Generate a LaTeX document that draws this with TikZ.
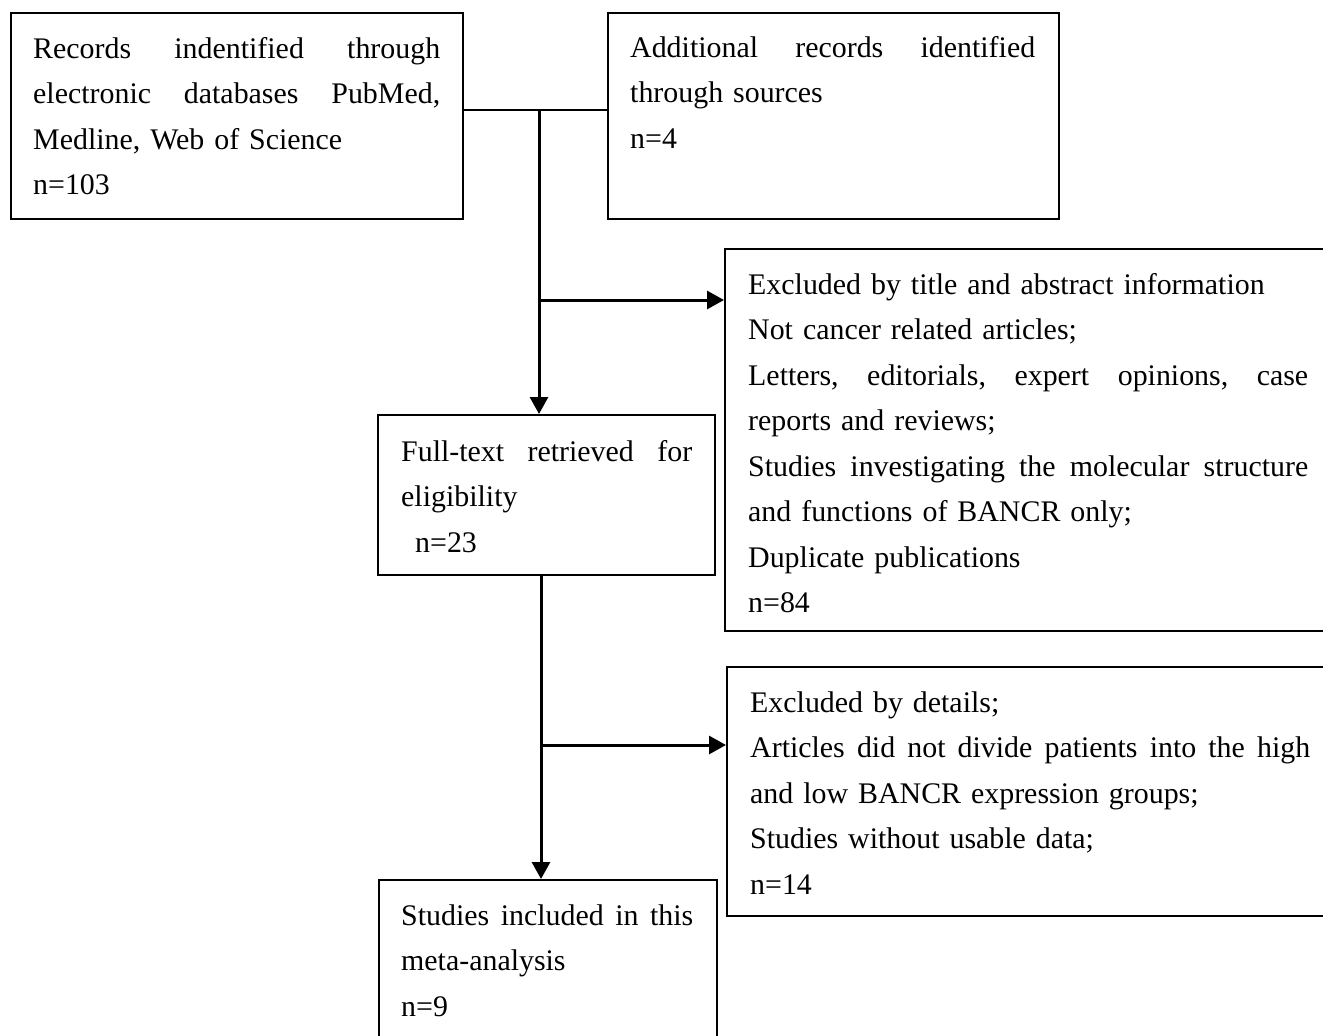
\documentclass[tikz,border=0pt]{standalone}
\usepackage{fontspec}
\setmainfont{Liberation Serif}
\usetikzlibrary{arrows.meta}
\newcommand\jline[2]{\leavevmode\hbox to #1{#2}}
\begin{document}
\begin{tikzpicture}[x=1pt,y=-1pt,
  box/.style={draw, line width=2pt, rectangle, inner sep=0pt, anchor=north west},
  txt/.style={anchor=base west, inner sep=0pt, align=left, font=\fontsize{29.9}{45.5}\selectfont},
  arr/.style={line width=3pt, -{Triangle[width=18pt,length=17pt]}}]
\clip (0,0) rectangle (1323,1036);
\fill[white] (0,0) rectangle (1323,1036);
% boxes
\node[box, minimum width=452pt, minimum height=206pt] (A) at (10,12) {};
\node[box, minimum width=451pt, minimum height=206pt] (B) at (607,12) {};
\node[box, minimum width=620pt, minimum height=382pt] (D) at (724,248) {};
\node[box, minimum width=337pt, minimum height=160pt] (C) at (377,414) {};
\node[box, minimum width=620pt, minimum height=249pt] (F) at (726,666) {};
\node[box, minimum width=338pt, minimum height=180pt] (E) at (378,879) {};
% texts
\node[txt, text width=407pt] (tA) at (33,58) {\jline{407pt}{Records\hfill indentified\hfill through}\\
\jline{407pt}{electronic\hfill databases\hfill PubMed,}\\
Medline, Web of Science\\
n=103};
\node[txt, text width=405pt] (tB) at (630,57) {\jline{405pt}{Additional\hfill records\hfill identified}\\
through sources\\
n=4};
\node[txt, text width=560pt] (tD) at (748,294) {Excluded by title and abstract information\\
Not cancer related articles;\\
\jline{560pt}{Letters,\hfill editorials,\hfill expert\hfill opinions,\hfill case}\\
reports and reviews;\\
\jline{560pt}{Studies\hfill investigating\hfill the\hfill molecular\hfill structure}\\
and functions of BANCR only;\\
Duplicate publications\\
n=84};
\node[txt, text width=291pt] (tC) at (401,461) {\jline{291pt}{Full-text\hfill retrieved\hfill for}\\
eligibility\\
\hspace*{14pt}n=23};
\node[txt, text width=560pt] (tF) at (750,712) {Excluded by details;\\
\jline{560pt}{Articles\hfill did\hfill not\hfill divide\hfill patients\hfill into\hfill the\hfill high}\\
and low BANCR expression groups;\\
Studies without usable data;\\
n=14};
\node[txt, text width=292pt] (tE) at (401,925) {\jline{292pt}{Studies\hfill included\hfill in\hfill this}\\
meta-analysis\\
n=9};
% connectors
\coordinate (j1) at (539,110);
\coordinate (j2) at (539,300);
\coordinate (j3) at (541,745);
\draw[line width=2pt] (A.east |- j1) -- (B.west |- j1);
\draw[arr] (j1) -- (j1 |- C.north);
\draw[arr] (j2) -- (j2 -| D.west);
\draw[arr] (C.south -| j3) -- (j3 |- E.north);
\draw[arr] (j3) -- (j3 -| F.west);
\end{tikzpicture}
\end{document}
